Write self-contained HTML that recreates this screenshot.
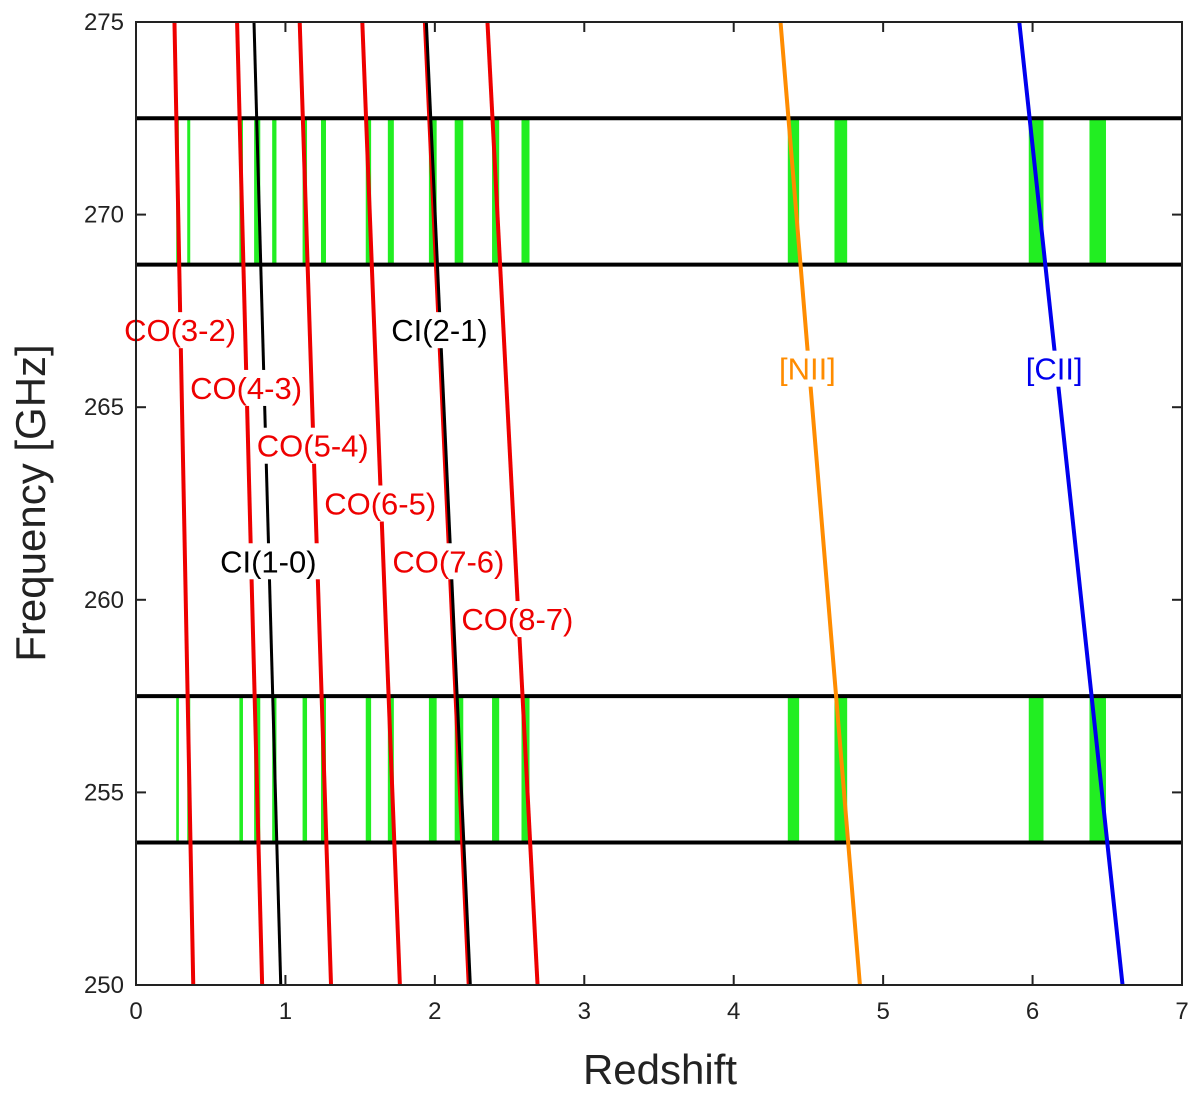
<!DOCTYPE html>
<html><head><meta charset="utf-8">
<style>
html,body{margin:0;padding:0;background:#fff;}
svg{display:block;font-family:"Liberation Sans",sans-serif;}
</style></head>
<body>
<svg id="chart" width="1200" height="1093" viewBox="0 0 1200 1093">
<defs><clipPath id="plotclip"><rect x="136" y="22" width="1046" height="963"/></clipPath></defs>
<g id="bands" clip-path="url(#plotclip)"></g>
<g id="lines" clip-path="url(#plotclip)"></g>
<g id="labels"></g>
<g id="axes"></g>
</svg>
<script>
const lineNames = ["CO(3-2)","CO(4-3)","CO(5-4)","CO(6-5)","CO(7-6)","CO(8-7)","CI(1-0)","CI(2-1)","[NII]","[CII]"];
const restFreqs = [345.796,461.041,576.268,691.473,806.652,921.799,492.161,809.342,1461.13,1900.54];
const lineColors = ["#ee0000","#ee0000","#ee0000","#ee0000","#ee0000","#ee0000","#000","#000","#ff8c00","#0000ee"];
const labelFreqs = [267.0,265.5,264.0,262.5,261.0,259.5,261.0,267.0,266.0,266.0];
const bandLow = [268.7,253.7];
const bandHigh = [272.5,257.5];
const xTicks = [0,1,2,3,4,5,6,7];
const yTicks = [250,255,260,265,270,275];

const NS="http://www.w3.org/2000/svg";
const X0=136,X1=1182,Y0=22,Y1=985,ZMAX=7,FMIN=250,FMAX=275;
const xs=z=>X0+(z/ZMAX)*(X1-X0);
const ys=f=>Y0+(FMAX-f)/(FMAX-FMIN)*(Y1-Y0);
function mk(tag,attrs,parent){const e=document.createElementNS(NS,tag);for(const k in attrs)e.setAttribute(k,attrs[k]);parent.appendChild(e);return e;}
const gB=document.getElementById('bands'),gL=document.getElementById('lines'),gT=document.getElementById('labels'),gA=document.getElementById('axes');

for(let b=0;b<bandLow.length;b++){
  for(let i=0;i<restFreqs.length;i++){
    for(let c=0;c<bandLow.length;c++){
      const zA=restFreqs[i]/bandHigh[b]-1, zB=restFreqs[i]/bandLow[b]-1;
      const r=mk('rect',{x:xs(zA),y:ys(bandHigh[c]),width:Math.max(xs(zB)-xs(zA),2),height:ys(bandLow[c])-ys(bandHigh[c]),fill:'#22ee22'},gB);
      
      
    }
  }
}
for(let b=0;b<bandLow.length;b++){
  for(const f of [bandLow[b],bandHigh[b]]){
    const l=mk('line',{x1:X0,x2:X1,y1:ys(f),y2:ys(f),stroke:'#000','stroke-width':4},gB);
    
    
  }
}
for(let i=0;i<restFreqs.length;i++){
  const z1=restFreqs[i]/FMAX-1,z2=restFreqs[i]/FMIN-1;
  const w=lineColors[i]==="#000"?3:4;
  const l=mk('line',{x1:xs(z1),y1:ys(FMAX),x2:xs(z2),y2:ys(FMIN),stroke:lineColors[i],'stroke-width':w},gL);
  
  
}
for(let i=0;i<restFreqs.length;i++){
  const f=labelFreqs[i];
  const z=restFreqs[i]/f-1;
  const cx=xs(z), cy=ys(f);
  const w=lineNames[i].length*16.5+4;
  const bg=mk('rect',{x:cx-w/2,y:cy-18,width:w,height:36,fill:'#fff'},gT);
  
  
  const t=mk('text',{x:cx,y:cy+11,'text-anchor':'middle','font-size':31,fill:lineColors[i]},gT);
  t.textContent=lineNames[i];
  
  
}
const fr=mk('rect',{x:X0,y:Y0,width:X1-X0,height:Y1-Y0,fill:'none',stroke:'#222','stroke-width':2},gA);


for(const z of xTicks){
  const x=xs(z);
  mk('line',{x1:x,x2:x,y1:Y1,y2:Y1-10,stroke:'#222','stroke-width':2},gA);
  mk('line',{x1:x,x2:x,y1:Y0,y2:Y0+10,stroke:'#222','stroke-width':2},gA);
  const t=mk('text',{x:x,y:Y1+34,'text-anchor':'middle','font-size':24,fill:'#222'},gA);
  t.textContent=z;
  
  
}
for(const f of yTicks){
  const y=ys(f);
  mk('line',{x1:X0,x2:X0+10,y1:y,y2:y,stroke:'#222','stroke-width':2},gA);
  mk('line',{x1:X1,x2:X1-10,y1:y,y2:y,stroke:'#222','stroke-width':2},gA);
  const t=mk('text',{x:X0-12,y:y+8,'text-anchor':'end','font-size':24,fill:'#222'},gA);
  t.textContent=f;
  
  
}
const xt=mk('text',{x:660,y:1084,'text-anchor':'middle','font-size':42,fill:'#222'},gA);
xt.textContent='Redshift';


const yt=mk('text',{x:0,y:0,'text-anchor':'middle','font-size':42,fill:'#222',transform:'translate(45,503) rotate(-90)'},gA);
yt.textContent='Frequency [GHz]';


</script>
</body></html>
